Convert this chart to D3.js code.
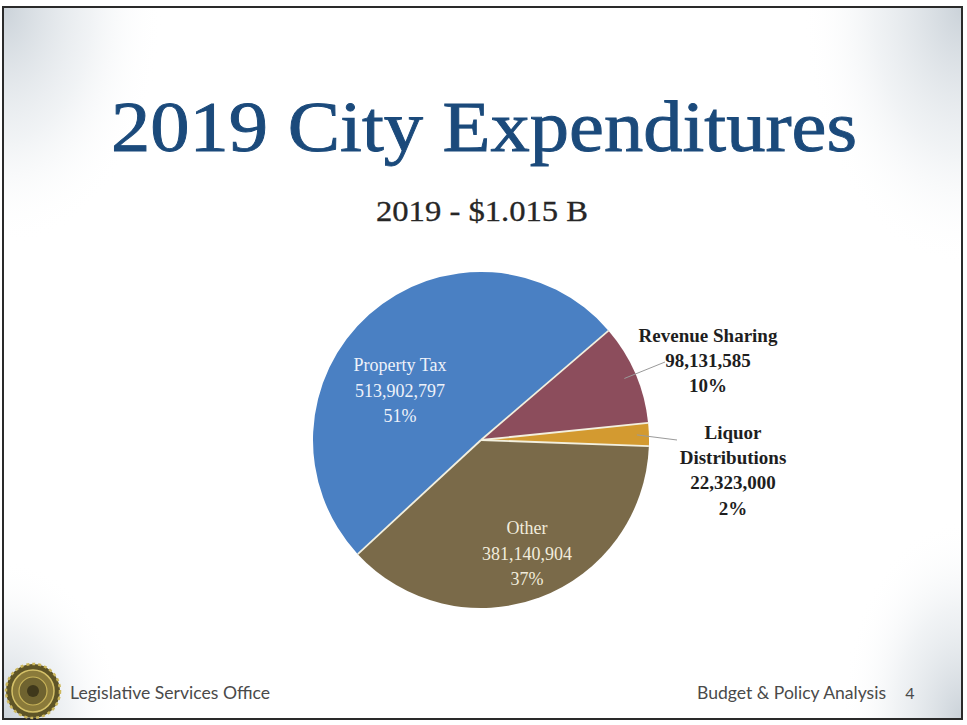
<!DOCTYPE html>
<html>
<head>
<meta charset="utf-8">
<script src="https://cdn.jsdelivr.net/npm/d3@7"></script>
<style>
  html, body { margin: 0; padding: 0; background: #fff; }
  svg { display: block; }
</style>
</head>
<body>
<div id="chart-area"></div>
<script>
// slice data
const categories = ["Property Tax", "Revenue Sharing", "Liquor Distributions", "Other"]
const amounts = [513902797, 98131585, 22323000, 381140904]
const percentLabels = ["51%", "10%", "2%", "37%"]
const sliceColors = ["#4a80c3", "#8c4d5c", "#d39a30", "#7a6a49"]

const WIDTH = 967
const HEIGHT = 725

const svg = d3.select("#chart-area").append("svg")
  .attr("width", WIDTH)
  .attr("height", HEIGHT)

const defs = svg.append("defs")

// mottled grey corners of the slide
const corners = [["tl", 0, 0], ["tr", 1, 0], ["bl", 0, 1], ["br", 1, 1]]
corners.forEach(c => {
  const grad = defs.append("radialGradient").attr("id", "corner-" + c[0])
    .attr("cx", c[1]).attr("cy", c[2]).attr("r", 1)
  grad.append("stop").attr("offset", "0%").attr("stop-color", "#b9c3cc").attr("stop-opacity", 0.75)
  grad.append("stop").attr("offset", "55%").attr("stop-color", "#d5dce2").attr("stop-opacity", 0.35)
  grad.append("stop").attr("offset", "100%").attr("stop-color", "#ffffff").attr("stop-opacity", 0)
})
svg.append("rect").attr("x", 3).attr("y", 7).attr("width", 160).attr("height", 240).attr("fill", "url(#corner-tl)")
svg.append("rect").attr("x", 802).attr("y", 7).attr("width", 160).attr("height", 260).attr("fill", "url(#corner-tr)")
svg.append("rect").attr("x", 3).attr("y", 560).attr("width", 120).attr("height", 159).attr("fill", "url(#corner-bl)")
svg.append("rect").attr("x", 842).attr("y", 520).attr("width", 120).attr("height", 199).attr("fill", "url(#corner-br)")

// slide border
svg.append("rect")
  .attr("x", 3).attr("y", 7)
  .attr("width", 959).attr("height", 712)
  .attr("fill", "none")
  .attr("stroke", "#2a2a2a")
  .attr("stroke-width", 2)

// fit text to a width
function fitText(sel, w) {
  sel.attr("textLength", w).attr("lengthAdjust", "spacingAndGlyphs")
}

// Title
svg.append("text")
  .attr("x", 484).attr("y", 151)
  .attr("text-anchor", "middle")
  .attr("font-family", "'Liberation Serif', 'DejaVu Serif', serif")
  .attr("font-size", 72)
  .attr("fill", "#1b4a7b")
  .attr("stroke", "#1b4a7b")
  .attr("stroke-width", 0.9)
  .text("2019 City Expenditures")
  .call(fitText, 746)

svg.append("text")
  .attr("x", 482).attr("y", 221)
  .attr("text-anchor", "middle")
  .attr("font-family", "'Liberation Serif', 'DejaVu Serif', serif")
  .attr("font-size", 29)
  .attr("fill", "#262626")
  .attr("stroke", "#262626")
  .attr("stroke-width", 0.3)
  .text("2019 - $1.015 B")
  .call(fitText, 212)

// Pie
const cx = 481, cy = 440, R = 168
const startDeg = 227.2
const pie = d3.pie().sort(null).value(d => d.value)
  .startAngle(startDeg * Math.PI / 180)
  .endAngle((startDeg + 360) * Math.PI / 180)
const data = categories.map((c, i) => ({ name: c, value: amounts[i], pct: percentLabels[i], color: sliceColors[i] }))
const arcs = pie(data)
const arc = d3.arc().innerRadius(0).outerRadius(R)

const g = svg.append("g").attr("transform", `translate(${cx}, ${cy})`)
g.selectAll("path.slice")
  .data(arcs)
  .enter().append("path")
  .attr("class", "slice")
  .attr("d", arc)
  .attr("fill", d => d.data.color)

// pale separators between slices
g.selectAll("line.sep")
  .data(arcs)
  .enter().append("line")
  .attr("class", "sep")
  .attr("x1", 0).attr("y1", 0)
  .attr("x2", d => d3.pointRadial(d.startAngle, R)[0])
  .attr("y2", d => d3.pointRadial(d.startAngle, R)[1])
  .attr("stroke", "#f3f0df")
  .attr("stroke-width", 1.8)

// label positions (offsets from pie centre) and styling
const labelOffsets = [[-81, -75], [227, -104], [252, -7], [46, 88]]
const labelInside = [true, false, false, true]
const labelColors = ["#eef2fa", "#1e1e1e", "#1e1e1e", "#f1ecdc"]
const fmt = d3.format(",")

arcs.forEach((a, i) => {
  const lines = (categories[i] === "Liquor Distributions" ? ["Liquor", "Distributions"] : [categories[i]])
    .concat([fmt(amounts[i]), percentLabels[i]])
  const step = labelInside[i] ? 25.5 : 25.2
  const t = g.append("text")
    .attr("text-anchor", "middle")
    .attr("font-family", "'Liberation Serif', 'DejaVu Serif', serif")
    .attr("font-size", labelInside[i] ? 18 : 19)
    .attr("font-weight", labelInside[i] ? "normal" : "bold")
    .attr("fill", labelColors[i])
    .attr("transform", `translate(${labelOffsets[i][0]}, ${labelOffsets[i][1]})`)
  lines.forEach((ln, j) => {
    t.append("tspan").attr("x", 0).attr("y", j * step + 6).text(ln)
  })
})

// leader lines for outside labels
const outer = d3.arc().innerRadius(R - 12).outerRadius(R - 12)
const leaders = [[1, [184, -78]], [2, [196, 0]]]
leaders.forEach(([i, end]) => {
  const p = outer.centroid(arcs[i])
  g.append("path")
    .attr("d", d3.line()([p, end]))
    .attr("stroke", "#9a9a9a")
    .attr("stroke-width", 1)
    .attr("fill", "none")
})

// footer
const logo = svg.append("g").attr("transform", "translate(33, 691)")
logo.append("circle").attr("r", 27).attr("fill", "#5e5426")
logo.append("circle").attr("r", 27).attr("fill", "none").attr("stroke", "#cdb85c").attr("stroke-width", 2.5).attr("stroke-dasharray", "3 3")
logo.append("circle").attr("r", 21).attr("fill", "#8a7a3a").attr("stroke", "#d5c168").attr("stroke-width", 1.5)
logo.append("circle").attr("r", 14).attr("fill", "#6f6330").attr("stroke", "#c9b45a").attr("stroke-width", 1.2)
logo.append("circle").attr("r", 6).attr("fill", "#3f381b")

svg.append("text")
  .attr("x", 70).attr("y", 699)
  .attr("font-family", "'Lato', 'DejaVu Sans', sans-serif")
  .attr("font-size", 17)
  .attr("fill", "#4a4a4a")
  .text("Legislative Services Office")
  .call(fitText, 200)

svg.append("text")
  .attr("x", 697).attr("y", 699)
  .attr("font-family", "'Lato', 'DejaVu Sans', sans-serif")
  .attr("font-size", 17)
  .attr("fill", "#4a4a4a")
  .text("Budget & Policy Analysis")
  .call(fitText, 189)

svg.append("text")
  .attr("x", 910).attr("y", 699)
  .attr("text-anchor", "middle")
  .attr("font-family", "'Lato', 'DejaVu Sans', sans-serif")
  .attr("font-size", 16)
  .attr("fill", "#4a4a4a")
  .text("4")
</script>
</body>
</html>
